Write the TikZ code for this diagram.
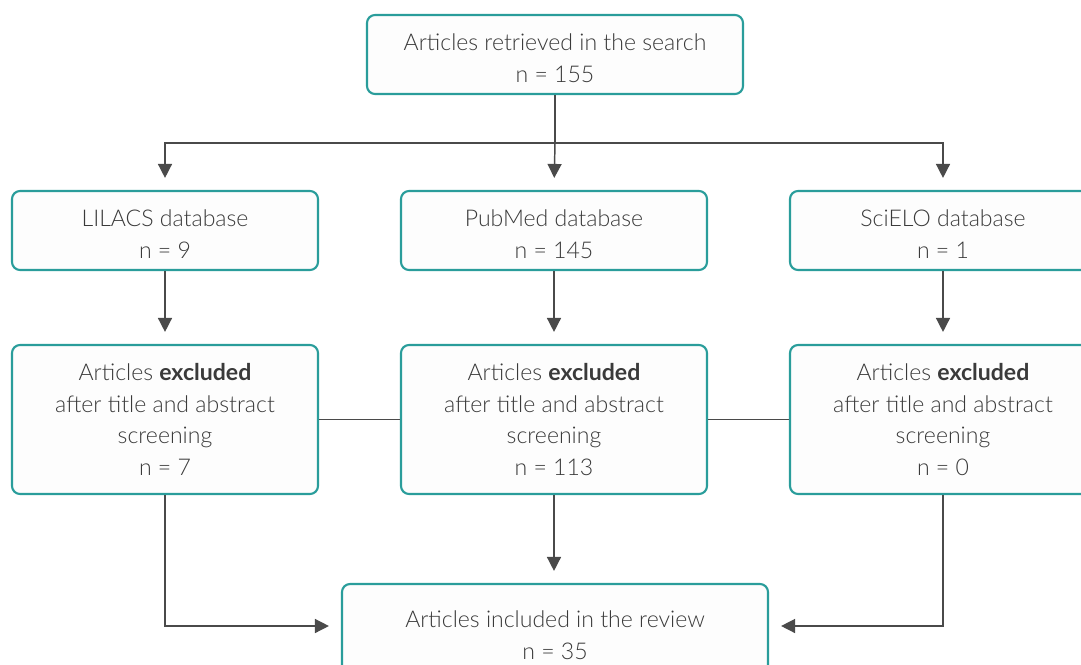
\documentclass[tikz,border=0pt]{standalone}
\usepackage{fontspec}
\setmainfont{Lato}[UprightFont=* Light, BoldFont=* Bold]
\usetikzlibrary{arrows.meta}
\definecolor{boxteal}{HTML}{2A9D9B}
\definecolor{linegray}{HTML}{4A4A4A}
\definecolor{textgray}{HTML}{3A3A3A}
\definecolor{boxfill}{HTML}{FDFDFD}
\newcommand{\lowstrut}{\rule{0pt}{18.5pt}}
\tikzset{
  flowbox/.style={draw=boxteal, line width=1.6pt, rounded corners=6pt, fill=boxfill,
    align=center, inner sep=0pt, text=textgray,
    font=\fontsize{17.3}{23.8}\selectfont},
  conn/.style={draw=linegray, line width=1.1pt},
  arr/.style={conn, -{Triangle[length=10.5pt, width=10.5pt]}, shorten >=9pt},
}
\begin{document}
\begin{tikzpicture}[x=0.75pt, y=-0.75pt]
\useasboundingbox (0,0) rectangle (1081,664);
\clip (0,0) rectangle (1081,664);
% boxes
\node[flowbox, minimum width=376*0.75pt, minimum height=79*0.75pt] (top) at (555,54.5)
  {\lowstrut Articles retrieved in the search\\n = 155};
\node[flowbox, minimum width=306*0.75pt, minimum height=79*0.75pt] (lil) at (165,230.5)
  {\lowstrut LILACS database\\n = 9};
\node[flowbox, minimum width=306*0.75pt, minimum height=79*0.75pt] (pub) at (554,230.5)
  {\lowstrut PubMed database\\n = 145};
\node[flowbox, minimum width=306*0.75pt, minimum height=79*0.75pt] (sci) at (943,230.5)
  {\lowstrut SciELO database\\n = 1};
\node[flowbox, minimum width=306*0.75pt, minimum height=149*0.75pt] (exl) at (165,419.5)
  {Articles \textbf{excluded}\\after title and abstract\\screening\\n = 7};
\node[flowbox, minimum width=306*0.75pt, minimum height=149*0.75pt] (exp) at (554,419.5)
  {Articles \textbf{excluded}\\after title and abstract\\screening\\n = 113};
\node[flowbox, minimum width=306*0.75pt, minimum height=149*0.75pt] (exs) at (943,419.5)
  {Articles \textbf{excluded}\\after title and abstract\\screening\\n = 0};
\node[flowbox, minimum width=426*0.75pt, minimum height=94*0.75pt] (inc) at (555,631)
  {\lowstrut Articles included in the review\\n = 35};
% connectors
\coordinate (split) at (top.south |- 0,143);
\draw[conn] (top.south) -- (split);
\draw[arr] (split) -| (lil.north);
\draw[arr] (split) -| (sci.north);
\draw[arr] (split) -- (pub.north);
\draw[arr] (lil.south) -- (exl.north);
\draw[arr] (pub.south) -- (exp.north);
\draw[arr] (sci.south) -- (exs.north);
\draw[conn] (exl.east) -- (exp.west);
\draw[conn] (exp.east) -- (exs.west);
\draw[arr] (exp.south) -- (inc.north -| exp.south);
\draw[arr] (exl.south) |- (inc.west |- 0,626);
\draw[arr] (exs.south) |- (inc.east |- 0,626);
\end{tikzpicture}
\end{document}
